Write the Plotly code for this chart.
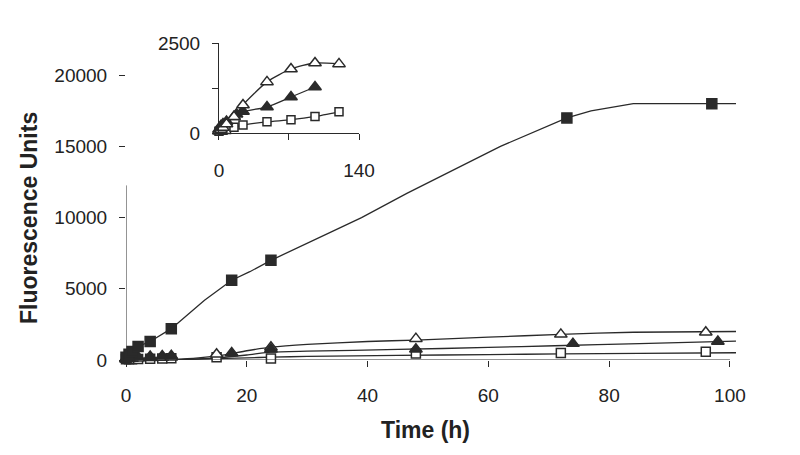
import plotly.graph_objects as go

# ---------------- data ----------------
# main chart markers
sq_t = [0, 0.5, 1, 2, 4, 7.5, 17.5, 24, 73, 97]
sq_v = [200, 400, 600, 950, 1300, 2200, 5600, 7000, 17000, 18000]
sq_fit_t = [0, 0.5, 1, 2, 4, 7.5, 13, 17.5, 20.5, 24, 34, 39, 46.5, 55, 62, 73, 77, 84, 101]
sq_fit_v = [200, 400, 600, 950, 1300, 2200, 4200, 5600, 6200, 7000, 9000, 10000, 11700,
            13500, 15000, 17000, 17500, 18000, 18000]

otri_t = [0, 0.5, 1, 2, 4, 6, 7.5, 15, 24, 48, 72, 96]
otri_v = [50, 80, 100, 120, 150, 180, 200, 400, 900, 1500, 1800, 1950]
otri_fit_t = [0, 8, 12, 16, 20, 24, 30, 40, 48, 60, 72, 84, 101]
otri_fit_v = [0, 50, 150, 350, 650, 900, 1100, 1300, 1400, 1600, 1800, 1950, 2000]

ftri_t = [0, 0.5, 1, 2, 4, 6, 7.5, 17.5, 24, 48, 74, 98]
ftri_v = [100, 150, 200, 220, 250, 280, 300, 500, 750, 750, 1150, 1300]
ftri_fit_t = [0, 10, 15, 20, 24, 30, 45, 60, 71, 85, 101]
ftri_fit_v = [0, 50, 150, 350, 550, 620, 740, 880, 1000, 1150, 1320]

osq_t = [0, 0.5, 1, 2, 4, 6, 7.5, 15, 24, 48, 72, 96]
osq_v = [50, 50, 60, 70, 80, 100, 120, 200, 100, 450, 500, 580]
osq_fit_t = [0, 10, 20, 24, 30, 45, 60, 72, 85, 101]
osq_fit_v = [0, 50, 150, 200, 250, 320, 380, 430, 470, 510]

# inset data
in_otri_t = [0, 2, 4, 7.5, 15, 24, 48, 72, 96, 120]
in_otri_v = [50, 100, 150, 250, 450, 780, 1420, 1780, 1945, 1920]
in_ftri_t = [0, 2, 4, 7.5, 15, 17.5, 24, 48, 72, 96]
in_ftri_v = [100, 200, 250, 320, 450, 520, 600, 722, 1000, 1278]
in_osq_t = [0, 4, 7.5, 15, 24, 48, 72, 96, 120]
in_osq_v = [50, 80, 100, 160, 220, 310, 370, 460, 590]

x_ticks = [0, 20, 40, 60, 80, 100]
x_text = ["0", "20", "40", "60", "80", "100"]
y_ticks = [0, 5000, 10000, 15000, 20000]
y_text = ["0", "5000", "10000", "15000", "20000"]
inset_x_ticks = [0, 70, 140]
inset_x_text = ["0", "", "140"]
inset_y_ticks = [0, 1250, 2500]
inset_y_text = ["0", "", "2500"]

# ---------------- styling ----------------
LC = "#2a2a2a"
FONT = "Liberation Sans, Arial, Helvetica, sans-serif"

fig = go.Figure()

def line(t, v, xa="x", ya="y", shape="spline"):
    fig.add_trace(go.Scatter(x=t, y=v, mode="lines", xaxis=xa, yaxis=ya,
                             line=dict(color=LC, width=1.3, shape=shape, smoothing=0.6),
                             cliponaxis=False, showlegend=False, hoverinfo="skip"))

def marks(t, v, sym, size, filled, xa="x", ya="y"):
    fig.add_trace(go.Scatter(x=t, y=v, mode="markers", xaxis=xa, yaxis=ya,
                             marker=dict(symbol=sym, size=size,
                                         color=LC if filled else "white",
                                         line=dict(color=LC, width=1.5)),
                             cliponaxis=False, showlegend=False))

# main lines
line(osq_fit_t, osq_fit_v)
line(ftri_fit_t, ftri_fit_v)
line(otri_fit_t, otri_fit_v)
line(sq_fit_t, sq_fit_v, shape="linear")
# main markers
marks(osq_t, osq_v, "square", 9, False)
marks(otri_t, otri_v, "triangle-up", 11, False)
marks(ftri_t, ftri_v, "triangle-up", 11, True)
marks(sq_t, sq_v, "square", 10, True)

# inset
line(in_osq_t, in_osq_v, "x2", "y2")
line(in_ftri_t, in_ftri_v, "x2", "y2")
line(in_otri_t, in_otri_v, "x2", "y2")
marks(in_osq_t, in_osq_v, "square", 8, False, "x2", "y2")
marks(in_ftri_t, in_ftri_v, "triangle-up", 11, True, "x2", "y2")
marks(in_otri_t, in_otri_v, "triangle-up", 11, False, "x2", "y2")

tickfont = dict(family=FONT, size=19, color="#222")

fig.update_layout(
    width=800, height=455,
    margin=dict(l=126, r=61, t=4, b=95),
    paper_bgcolor="white", plot_bgcolor="white",
    xaxis=dict(range=[0, 101.5], tickvals=x_ticks, ticktext=x_text, ticks="outside", ticklen=6,
               tickcolor=LC, showline=False, showgrid=False, zeroline=False,
               tickfont=tickfont, ticklabelstandoff=12, domain=[0, 1], automargin=False),
    yaxis=dict(range=[0, 25000], tickvals=y_ticks, ticktext=y_text, ticks="outside", ticklen=6,
               tickcolor=LC, showline=False, showgrid=False, zeroline=False,
               tickfont=tickfont, ticklabelstandoff=8, domain=[0, 1], automargin=False),
    xaxis2=dict(range=[0, 140], tickvals=inset_x_ticks, ticktext=inset_x_text,
                ticks="outside", ticklen=6, tickcolor=LC, showline=True,
                linecolor=LC, linewidth=1, showgrid=False, zeroline=False,
                tickfont=tickfont, ticklabelstandoff=14, anchor="y2",
                domain=[0.1517, 0.3801], automargin=False),
    yaxis2=dict(range=[0, 2500], tickvals=inset_y_ticks, ticktext=inset_y_text,
                ticks="outside", ticklen=6, tickcolor=LC, showline=True,
                linecolor=LC, linewidth=1, showgrid=False, zeroline=False,
                tickfont=tickfont, ticklabelstandoff=8, anchor="x2",
                domain=[0.6376, 0.8904], automargin=False),
    shapes=[
        dict(type="line", xref="x", yref="y", x0=0, x1=100, y0=0, y1=0,
             line=dict(color=LC, width=1)),
        dict(type="line", xref="x", yref="y", x0=0, x1=0, y0=0, y1=12260,
             line=dict(color=LC, width=1)),
    ],
    annotations=[
        dict(text="<b>Time (h)</b>", xref="paper", yref="paper",
             x=(425 - 126) / 613, y=(360 - 430) / 356, xanchor="center", yanchor="middle",
             showarrow=False, font=dict(family=FONT, size=23, color="#222")),
        dict(text="<b>Fluorescence Units</b>", xref="paper", yref="paper",
             x=(29 - 126) / 613, y=(360 - 218) / 356, xanchor="center", yanchor="middle",
             showarrow=False, textangle=-90,
             font=dict(family=FONT, size=23, color="#222")),
    ],
)

fig.write_html("out.html", config={"displayModeBar": False, "staticPlot": True},
               post_script="document.body.style.margin='0';")
